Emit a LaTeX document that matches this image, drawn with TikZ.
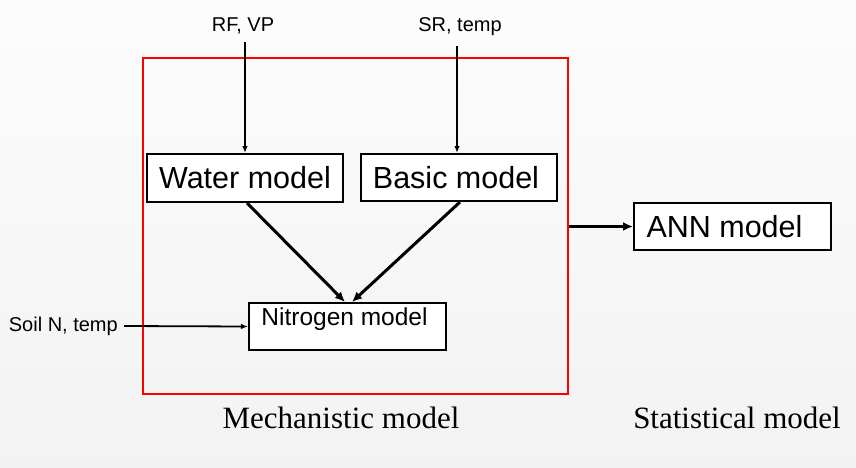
\documentclass[tikz,border=0pt]{standalone}
\usepackage{fontspec}
\setmainfont{Liberation Serif}
\newfontfamily\arialf{Liberation Sans}
\usetikzlibrary{arrows.meta}
\begin{document}
\begin{tikzpicture}[x=1pt,y=-1pt,
  modelbox/.style={draw=black, line width=2pt, fill=white, inner sep=0pt, font=\arialf\fontsize{30.5}{30.5}\selectfont},
  smalllabel/.style={inner sep=0pt, font=\arialf\fontsize{20}{20}\selectfont},
  biglabel/.style={inner sep=0pt, font=\fontsize{31}{31}\selectfont},
  thinarrow/.style={line width=1.8pt, -{Latex[length=7pt,width=5.5pt]}},
  thickarrow/.style={line width=3pt, -{Latex[length=10pt,width=9pt]}}]
\shade[top color=white!99!black, bottom color=white!95!black] (0,0) rectangle (856,467);
\useasboundingbox (0,0) rectangle (856,467);
\node[draw=red, line width=2pt, minimum width=425pt, minimum height=336pt, inner sep=0pt] (mech) at (355.5,226) {};
\node[modelbox, minimum width=196pt, minimum height=48pt] (water) at (245,178) {Water model};
\node[modelbox, minimum width=196pt, minimum height=47pt] (basic) at (459,177.5) {\hspace*{-6pt}Basic model};
\node[modelbox, minimum width=197pt, minimum height=47pt, font=\arialf\fontsize{24.5}{24.5}\selectfont, text height=22pt, text depth=25pt] (nit) at (347.5,326.5) {\hspace*{-6pt}Nitrogen model};
\node[modelbox, minimum width=197pt, minimum height=47pt] (ann) at (732.5,226.5) {\hspace*{-16pt}ANN model};
\node[smalllabel] (rfvp) at (243,26) {RF, VP};
\node[smalllabel] (srtemp) at (460,27) {SR, temp};
\node[smalllabel, anchor=east, inner xsep=6pt] (soil) at (124,326) {Soil N, temp};
\node[biglabel] (mechlab) at (341,418) {Mechanistic model};
\node[biglabel] (statlab) at (737,418) {Statistical model};
\coordinate (rfs) at (245,42);
\coordinate (srs) at (457,46);
\draw[thinarrow] (rfs) -- (rfs |- water.north);
\draw[thinarrow] (srs) -- (srs |- basic.north);
\draw[thinarrow] (soil.east) -- (nit.west);
\draw[thickarrow] ([xshift=2pt]water.south) -- ([xshift=-2.5pt]nit.north);
\draw[thickarrow] ([xshift=1pt]basic.south) -- ([xshift=4.5pt]nit.north);
\draw[thickarrow] (mech.east |- ann.west) -- (ann.west);
\end{tikzpicture}
\end{document}
